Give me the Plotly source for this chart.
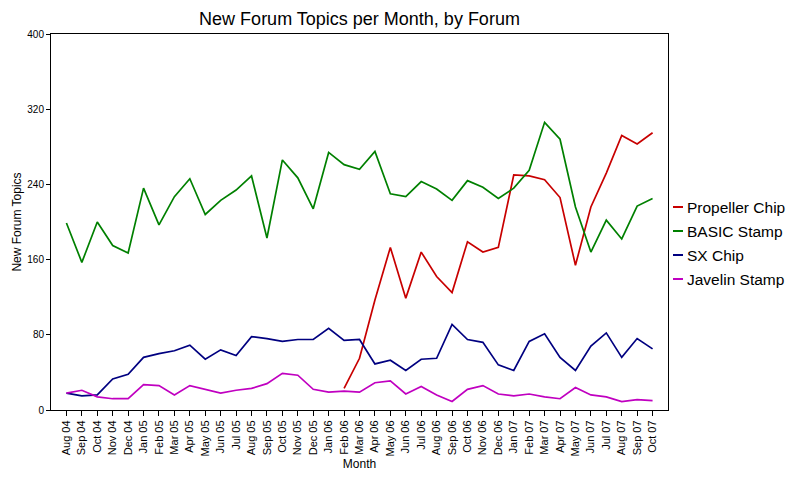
import plotly.graph_objects as go

months = ["Aug 04","Sep 04","Oct 04","Nov 04","Dec 04","Jan 05","Feb 05","Mar 05","Apr 05","May 05",
          "Jun 05","Jul 05","Aug 05","Sep 05","Oct 05","Nov 05","Dec 05","Jan 06","Feb 06","Mar 06",
          "Apr 06","May 06","Jun 06","Jul 06","Aug 06","Sep 06","Oct 06","Nov 06","Dec 06","Jan 07",
          "Feb 07","Mar 07","Apr 07","May 07","Jun 07","Jul 07","Aug 07","Sep 07","Oct 07"]

propeller_chip = [None]*18 + [23, 55, 117, 173, 119, 168, 142, 125, 179, 168, 173, 250,
                              249, 245, 226, 154, 216, 252, 292, 283, 295]
basic_stamp = [199, 157, 200, 175, 167, 236, 197, 227, 246, 208, 223, 234, 249, 183, 266, 247,
               214, 274, 261, 256, 275, 230, 227, 243, 235, 223, 244, 237, 225, 236, 255, 306,
               288, 216, 168, 202, 182, 217, 225]
sx_chip = [18, 15, 16, 33, 38, 56, 60, 63, 69, 54, 64, 58, 78, 76, 73, 75, 75, 87, 74, 75,
           49, 53, 42, 54, 55, 91, 75, 72, 48, 42, 73, 81, 56, 42, 68, 82, 56, 76, 65]
javelin_stamp = [18, 21, 14, 12, 12, 27, 26, 16, 26, 22, 18, 21, 23, 28, 39, 37, 22, 19, 20, 19,
                 29, 31, 17, 25, 16, 9, 22, 26, 17, 15, 17, 14, 12, 24, 16, 14, 9, 11, 10]

series = [("Propeller Chip", propeller_chip, "#C80000"),
          ("BASIC Stamp", basic_stamp, "#008000"),
          ("SX Chip", sx_chip, "#000080"),
          ("Javelin Stamp", javelin_stamp, "#C000C0")]

fig = go.Figure()
for name, vals, color in series:
    fig.add_trace(go.Scatter(x=months, y=vals, name=name, mode="lines", showlegend=False,
                             line=dict(color=color, width=1.7)))

# plot area in figure pixels (page adds 8px body margin)
L, T, W, H = 43, 26, 617, 376
def px(x):
    return (x - 8 - L) / W
def py(y):
    return (T + H - (y - 8)) / H

font = "Liberation Sans, Arial, sans-serif"
shapes, annotations = [], []
for i, (name, _, color) in enumerate(series):
    yy = py(207 + 24 * i)
    shapes.append(dict(type="line", xref="paper", yref="paper", x0=px(673), x1=px(683), y0=yy, y1=yy,
                       line=dict(color=color, width=2)))
    annotations.append(dict(text=name, xref="paper", yref="paper", x=px(685), y=yy, xanchor="left",
                            yanchor="middle", showarrow=False, font=dict(size=15.5, color="black")))

fig.update_layout(
    width=800, height=480,
    margin=dict(l=L, r=800 - L - W, t=T, b=480 - T - H, autoexpand=False),
    paper_bgcolor="white", plot_bgcolor="white",
    font=dict(family=font, color="black", size=11),
    title=dict(text="New Forum Topics per Month, by Forum", x=351.5 / 800, xanchor="center",
               y=1 - 11 / 480, yanchor="middle", font=dict(size=18, color="black")),
    showlegend=False,
    shapes=shapes, annotations=annotations,
)
fig.update_xaxes(type="category", range=[-1, 39], showgrid=False, zeroline=False, automargin=False,
                 showline=True, linecolor="black", linewidth=1, mirror=True,
                 ticks="outside", ticklen=5, tickcolor="black", tickangle=-90,
                 tickfont=dict(size=11), title=dict(text="Month", font=dict(size=12), standoff=4))
fig.update_yaxes(range=[0, 400], tickvals=[0, 80, 160, 240, 320, 400], showgrid=False, zeroline=False,
                 automargin=False,
                 showline=True, linecolor="black", linewidth=1, mirror=True,
                 ticks="outside", ticklen=4, tickcolor="black", tickfont=dict(size=10),
                 title=dict(text="New Forum Topics", font=dict(size=12), standoff=3))

fig.write_html("out.html")
